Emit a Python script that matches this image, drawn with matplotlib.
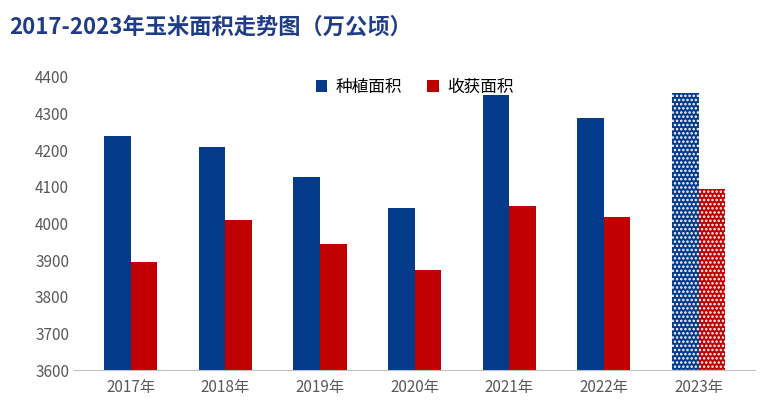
import matplotlib
matplotlib.use("Agg")
import matplotlib.pyplot as plt
from matplotlib import font_manager as fm
import numpy as np

years = ["2017年","2018年","2019年","2020年","2021年","2022年","2023年"]
planted = [4240, 4210, 4127, 4043, 4350, 4289, 4357]
harvest = [3895, 4010, 3944, 3873, 4048, 4018, 4094]

cjk = None
for f in fm.fontManager.ttflist:
    if "CJK" in f.name and ("SC" in f.name or cjk is None):
        cjk = f.name
for f in fm.findSystemFonts():
    if cjk is None and "CJK" in f:
        fm.fontManager.addfont(f)
        cjk = fm.FontProperties(fname=f).get_name()
plt.rcParams["font.family"] = [cjk or "Noto Sans CJK SC", "DejaVu Sans"]
plt.rcParams["hatch.linewidth"] = 1.2
blue = "#043A8A"; red = "#C00000"

fig = plt.figure(figsize=(7.7, 4.16), dpi=100)
ax = fig.add_axes([0.096, 0.11, 0.885, 0.705])
x = np.arange(len(years)); w = 0.28
for i in range(len(years)):
    last = i == len(years) - 1
    ax.bar(x[i] - w/2, planted[i] - 3600, w, bottom=3600, color=blue,
           edgecolor="white" if last else blue, linewidth=0, hatch="...." if last else None,
           label="种植面积" if i == 0 else None)
    ax.bar(x[i] + w/2, harvest[i] - 3600, w, bottom=3600, color=red,
           edgecolor="white" if last else red, linewidth=0, hatch="...." if last else None,
           label="收获面积" if i == 0 else None)
ax.set_ylim(3600, 4400)
ax.set_yticks(range(3600, 4401, 100))
ax.set_xlim(-0.6, 6.6)
ax.set_xticks(x); ax.set_xticklabels(years)
for s in ["top", "right", "left"]:
    ax.spines[s].set_visible(False)
ax.spines["bottom"].set_color("#BFBFBF")
ax.tick_params(axis="both", colors="#595959", labelsize=11, length=0)
ax.tick_params(axis="x", pad=6)
ax.legend(loc="upper center", bbox_to_anchor=(0.5, 1.045), ncol=2, frameon=False,
          fontsize=12, handlelength=0.7, handleheight=0.7, columnspacing=1.5, handletextpad=0.5)
fig.text(0.012, 0.935, "2017-2023年玉米面积走势图（万公顷）", fontsize=16, fontweight="bold",
         color="#1F3C88", va="center")
fig.savefig("out.png", dpi=100)
